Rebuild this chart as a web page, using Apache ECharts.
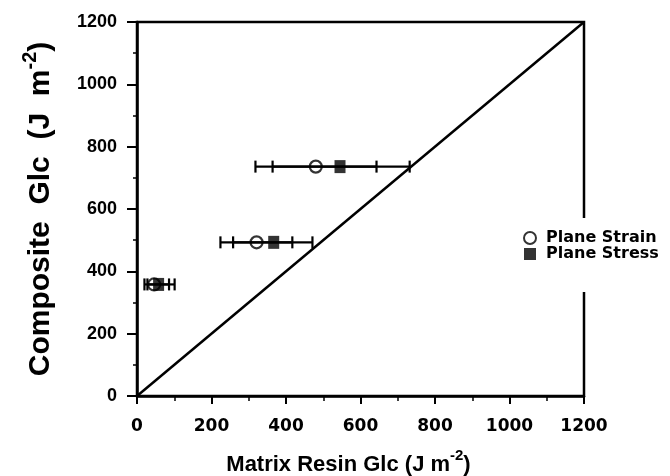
<!DOCTYPE html>
<html>
<head>
<meta charset="utf-8">
<script src="https://cdn.jsdelivr.net/npm/echarts@6/dist/echarts.min.js"></script>
<style>html,body{margin:0;padding:0;background:#fff}#c{width:670px;height:476px}</style>
</head>
<body>
<div id="c"></div>
<script>
// Data (J m^-2)
var yLevels      = [358, 493, 736];
var strainX      = [46, 321, 480];
var strainLow    = [20, 224, 318];
var strainHigh   = [86, 417, 643];
var stressX      = [58, 367, 545];
var stressLow    = [28, 258, 364];
var stressHigh   = [101, 471, 732];
var xTicks = [0, 200, 400, 600, 800, 1000, 1200];
var yTicks = [0, 200, 400, 600, 800, 1000, 1200];
var diagonal = [[0, 0], [1200, 1200]];

function pairs(xs, ys) { return xs.map(function (x, i) { return [x, ys[i]]; }); }
function bars(xs, lo, hi) { return xs.map(function (x, i) { return [lo[i], hi[i], yLevels[i]]; }); }

function renderBar(params, api) {
  var a = api.coord([api.value(0), api.value(2)]);
  var b = api.coord([api.value(1), api.value(2)]);
  var h = 6;
  var st = { stroke: '#000', lineWidth: 2.2 };
  return {
    type: 'group',
    children: [
      { type: 'line', shape: { x1: a[0], y1: a[1], x2: b[0], y2: b[1] }, style: st },
      { type: 'line', shape: { x1: a[0], y1: a[1] - h, x2: a[0], y2: a[1] + h }, style: st },
      { type: 'line', shape: { x1: b[0], y1: b[1] - h, x2: b[0], y2: b[1] + h }, style: st }
    ]
  };
}
function plain(v) { return String(v); }

var chart = echarts.init(document.getElementById('c'));
chart.setOption({
  backgroundColor: '#fff',
  animation: false,
  grid: { left: 137, right: 86, top: 22, bottom: 80, outerBoundsMode: 'none', containLabel: false,
          show: true, borderColor: '#000', borderWidth: 2.5, backgroundColor: 'transparent' },
  legend: {
    orient: 'vertical', left: 519, top: 218,
    backgroundColor: '#fff', padding: [12, 4, 30, 4],
    itemWidth: 12, itemHeight: 12, itemGap: 0,
    textStyle: { color: '#000', fontWeight: 'bold', fontFamily: 'DejaVu Sans', fontSize: 16, padding: [0, 0, 0, 5] },
    data: [
      { name: 'Plane Strain', icon: 'circle', itemStyle: { color: '#fff', borderColor: '#000', borderWidth: 2 } },
      { name: 'Plane Stress', icon: 'rect', itemStyle: { color: '#000', borderColor: '#000', borderWidth: 0 } }
    ]
  },
  xAxis: {
    type: 'value', min: 0, max: 1200, interval: 200,
    axisLine: { show: true, lineStyle: { color: '#000', width: 2.5 } },
    axisTick: { show: true, length: 8, lineStyle: { color: '#000', width: 2 } },
    minorTick: { show: true, splitNumber: 2, length: 5, lineStyle: { color: '#000', width: 1.5 } },
    splitLine: { show: false },
    axisLabel: { margin: 22, fontFamily: 'DejaVu Sans', fontSize: 17, color: '#000', fontWeight: 'bold', formatter: plain },
    name: '{a|Matrix Resin Glc (J m}{s|-2}{a|)}',
    nameLocation: 'middle', nameGap: 52,
    nameTextStyle: {
      padding: [0, 24, 0, 0],
      rich: {
        a: { fontSize: 22, fontWeight: 'bold', fontFamily: 'Liberation Sans', color: '#000', lineHeight: 28, verticalAlign: 'bottom' },
        s: { fontSize: 15, fontWeight: 'bold', fontFamily: 'Liberation Sans', color: '#000', lineHeight: 28, verticalAlign: 'top', padding: [0, 0, 10, 0] }
      }
    }
  },
  yAxis: {
    type: 'value', min: 0, max: 1200, interval: 200,
    axisLine: { show: true, lineStyle: { color: '#000', width: 2.5 } },
    axisTick: { show: true, length: 10, lineStyle: { color: '#000', width: 2 } },
    minorTick: { show: true, splitNumber: 2, length: 4, lineStyle: { color: '#000', width: 1.5 } },
    splitLine: { show: false },
    axisLabel: { margin: 20, fontFamily: 'Liberation Sans', fontSize: 18, color: '#000', fontWeight: 'bold', formatter: plain },
    name: '{a|Composite  Glc  (J  m}{s|-2}{a|)}',
    nameLocation: 'middle', nameGap: 81, nameRotate: 90,
    nameTextStyle: {
      rich: {
        a: { fontSize: 30, fontWeight: 'bold', fontFamily: 'Liberation Sans', color: '#000', lineHeight: 36, verticalAlign: 'bottom' },
        s: { fontSize: 20, fontWeight: 'bold', fontFamily: 'Liberation Sans', color: '#000', lineHeight: 36, verticalAlign: 'top', padding: [0, 0, 13, 0] }
      }
    }
  },
  series: [
    { type: 'line', data: diagonal, symbol: 'none', silent: true, lineStyle: { color: '#000', width: 2.5 }, z: 1 },
    { type: 'custom', name: 'strainBars', renderItem: renderBar, data: bars(strainX, strainLow, strainHigh), encode: { x: [0, 1], y: 2 }, z: 2 },
    { type: 'custom', name: 'stressBars', renderItem: renderBar, data: bars(stressX, stressLow, stressHigh), encode: { x: [0, 1], y: 2 }, z: 2 },
    { type: 'scatter', name: 'Plane Strain', data: pairs(strainX, yLevels), symbol: 'circle', symbolSize: 12,
      itemStyle: { color: 'rgba(255,255,255,0)', borderColor: '#000', borderWidth: 2.2 }, z: 4 },
    { type: 'scatter', name: 'Plane Stress', data: pairs(stressX, yLevels), symbol: 'rect', symbolSize: [11, 13],
      itemStyle: { color: '#000' }, z: 5 }
  ]
});
</script>
</body>
</html>
